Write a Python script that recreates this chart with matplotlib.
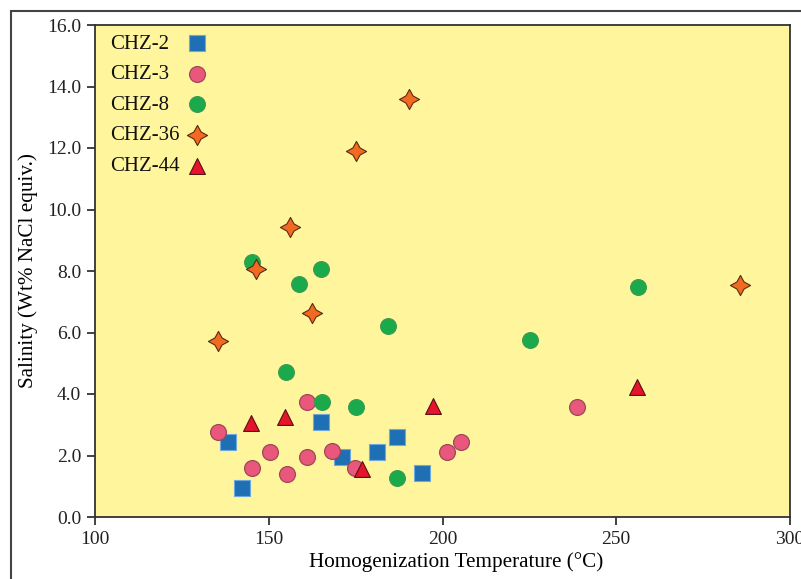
import matplotlib
matplotlib.use("Agg")
import matplotlib.pyplot as plt
from matplotlib.patches import Rectangle

plt.rcParams['font.family'] = ['Liberation Serif', 'DejaVu Serif']

# Data (Homogenization Temperature °C, Salinity wt% NaCl equiv.)
chz2_t = [138.3, 142.3, 165.0, 171.1, 181.2, 186.9, 194.1]
chz2_s = [2.44, 0.94, 3.09, 1.95, 2.11, 2.60, 1.43]

chz3_t = [135.4, 150.4, 145.2, 155.3, 161.0, 161.0, 168.2, 174.8, 201.3, 205.3, 238.7]
chz3_s = [2.76, 2.11, 1.59, 1.40, 1.95, 3.74, 2.15, 1.59, 2.11, 2.44, 3.58]

chz8_t = [145.2, 165.0, 158.7, 184.3, 155.0, 165.3, 175.1, 186.9, 225.2, 256.3]
chz8_s = [8.29, 8.07, 7.58, 6.21, 4.72, 3.74, 3.58, 1.27, 5.76, 7.48]

chz36_t = [190.4, 175.1, 156.1, 146.3, 162.4, 135.4, 285.6]
chz36_s = [13.59, 11.90, 9.43, 8.07, 6.63, 5.72, 7.54]

chz44_t = [144.9, 154.7, 197.3, 176.8, 256.0]
chz44_s = [3.06, 3.25, 3.61, 1.56, 4.23]

series_labels = ['CHZ-2', 'CHZ-3', 'CHZ-8', 'CHZ-36', 'CHZ-44']
xticks = [100, 150, 200, 250, 300]
yticks = [0, 2, 4, 6, 8, 10, 12, 14, 16]

W, H = 801, 579
fig = plt.figure(figsize=(W / 100, H / 100), dpi=100)
ax = fig.add_axes([95 / W, 1 - 517 / H, (790 - 95) / W, (517 - 25) / H])
ax.set_facecolor('#FFF59C')

ax.scatter(chz2_t, chz2_s, marker='s', s=125, c='#1F6FB5', edgecolors='#6FA8DC', linewidths=0.8, label=series_labels[0], zorder=3)
ax.scatter(chz3_t, chz3_s, marker='o', s=130, c='#E9587C', edgecolors='#9A4A55', linewidths=0.9, label=series_labels[1], zorder=3)
ax.scatter(chz8_t, chz8_s, marker='o', s=130, c='#1AAA4B', edgecolors='#3C9A50', linewidths=0.8, label=series_labels[2], zorder=3)
ax.scatter(chz36_t, chz36_s, marker=(4, 1, 0), s=210, c='#F26A22', edgecolors='#5A2A10', linewidths=0.8, label=series_labels[3], zorder=4)
ax.scatter(chz44_t, chz44_s, marker='^', s=130, c='#E3142C', edgecolors='#5A1010', linewidths=0.8, label=series_labels[4], zorder=3)

ax.set_xlim(100, 300)
ax.set_ylim(0, 16)
ax.set_xticks(xticks)
ax.set_yticks(yticks)
ax.set_yticklabels([f'{v:.1f}' for v in yticks])
ax.tick_params(direction='out', length=6, width=1.2, labelsize=14, colors='#222222', pad=4)
for sp in ax.spines.values():
    sp.set_linewidth(1.3)
    sp.set_color('#333333')

ax.set_xlabel('Homogenization Temperature (°C)', fontsize=15.2)
ax.set_ylabel('Salinity (Wt% NaCl equiv.)', fontsize=15.2)
ax.xaxis.set_label_coords((456 - 95) / 695, -(562 - 517) / 492)
ax.yaxis.set_label_coords(-(95 - 28) / 695, 0.5)
ax.xaxis.label.set_va('center')
ax.yaxis.label.set_va('center')

# Legend: markers in a right-hand column, labels left-aligned
leg = ax.legend(loc='upper left', frameon=False, markerfirst=False, fontsize=15,
                handletextpad=0.2, labelspacing=0.53, borderaxespad=0.0, borderpad=0.0,
                handlelength=1.2, scatterpoints=1,
                bbox_to_anchor=((111 - 95) / 695, 1 - (34 - 25) / 492))
fig.canvas.draw()
renderer = fig.canvas.get_renderer()
for t in leg.get_texts():
    bb = t.get_window_extent(renderer)
    yc = (bb.y0 + bb.y1) / 2
    fig.text(110 / W, yc / H, t.get_text(), fontsize=15, ha='left', va='center',
             color='#111111')
    t.set_alpha(0)

fig.patches.append(Rectangle((11 / W, -0.05), 1.1, 1.05 - 11 / H, transform=fig.transFigure,
                             fill=False, edgecolor='#444444', linewidth=1.5))

fig.savefig('out.png', dpi=100)
